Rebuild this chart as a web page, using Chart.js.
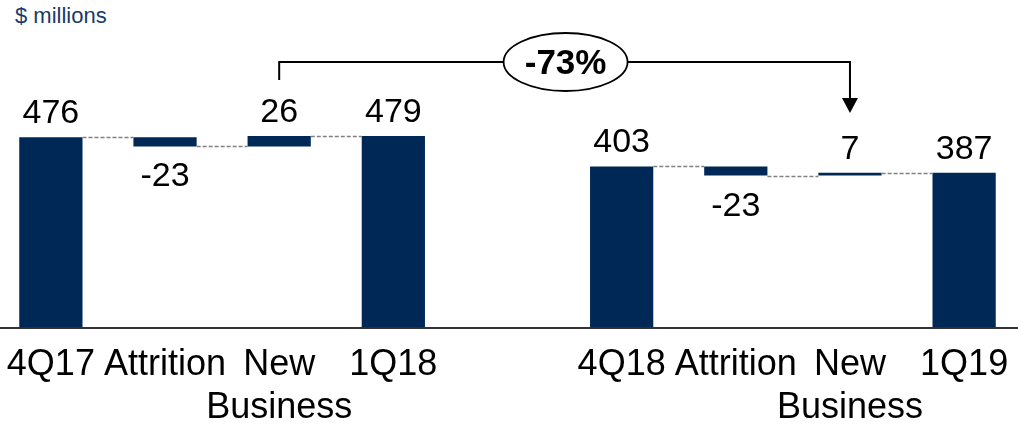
<!DOCTYPE html>
<html>
<head>
<meta charset="utf-8">
<script src="https://cdn.jsdelivr.net/npm/chart.js@4/dist/chart.umd.min.js"></script>
<style>
  body { margin: 0; background: #fff; overflow: hidden; }
  #unit { position: absolute; left: 15px; top: 3px; font: 22px "Liberation Sans", Arial, sans-serif; color: #1b3a6a; }
  #wrap { position: absolute; left: -9px; top: 0; width: 1033px; height: 446px; }
</style>
</head>
<body>
<div id="unit">$ millions</div>
<div id="wrap"><canvas id="waterfallChart"></canvas></div>
<script>
const categories = [["4Q17"], ["Attrition"], ["New", "Business"], ["1Q18"], [""], ["4Q18"], ["Attrition"], ["New", "Business"], ["1Q19"]];
const amounts = [476, -23, 26, 479, null, 403, -23, 7, 387];
const kinds = ["total", "delta", "delta", "total", null, "total", "delta", "delta", "total"];
const changeLabel = "-73%";
const changeFrom = 2; // New Business 1Q18
const changeTo = 7;   // New Business 1Q19

// floating bars built from the running level
const ranges = [];
const levels = [];
let level = 0;
for (let i = 0; i < amounts.length; i++) {
	if (amounts[i] === null) { ranges.push(null); levels.push(null); continue; }
	if (kinds[i] === "total") {
		ranges.push([0, amounts[i]]);
		level = amounts[i];
	} else {
		ranges.push([level, level + amounts[i]]);
		level = level + amounts[i];
	}
	levels.push(level);
}

const FONT = '"Liberation Sans", Arial, sans-serif';
const NAVY = "#002856";

const overlay = {
	id: "overlay",
	afterDatasetsDraw(chart) {
		const ctx = chart.ctx;
		const meta = chart.getDatasetMeta(0);
		const y = chart.scales.y;
		ctx.save();

		// dashed connectors
		ctx.strokeStyle = "#808080";
		ctx.lineWidth = 1.3;
		ctx.setLineDash([4, 2]);
		for (let i = 0; i < amounts.length - 1; i++) {
			if (levels[i] === null || amounts[i + 1] === null) continue;
			const a = meta.data[i], b = meta.data[i + 1];
			const py = Math.round(y.getPixelForValue(levels[i])) + 0.5;
			ctx.beginPath();
			ctx.moveTo(a.x + a.width / 2, py);
			ctx.lineTo(b.x - b.width / 2, py);
			ctx.stroke();
		}
		ctx.setLineDash([]);

		// value labels
		ctx.fillStyle = "#000";
		ctx.font = "34px " + FONT;
		ctx.textAlign = "center";
		ctx.textBaseline = "alphabetic";
		for (let i = 0; i < amounts.length; i++) {
			if (amounts[i] === null) continue;
			const bar = meta.data[i];
			const top = Math.min(bar.y, bar.base);
			const bottom = Math.max(bar.y, bar.base);
			if (amounts[i] < 0) {
				ctx.fillText(String(amounts[i]), bar.x, bottom + 40);
			} else {
				ctx.fillText(String(amounts[i]), bar.x, top - 14);
			}
		}

		// change bracket
		const x1 = meta.data[changeFrom].x;
		const x2 = meta.data[changeTo].x;
		const by = chart.chartArea.top + 62;
		const cx = (x1 + x2) / 2 + 1;
		ctx.strokeStyle = "#000";
		ctx.lineWidth = 2;
		ctx.beginPath();
		ctx.moveTo(x1, by + 18);
		ctx.lineTo(x1, by);
		ctx.lineTo(x2, by);
		ctx.lineTo(x2, by + 36);
		ctx.stroke();
		ctx.fillStyle = "#000";
		ctx.beginPath();
		ctx.moveTo(x2 - 8, by + 36);
		ctx.lineTo(x2 + 8, by + 36);
		ctx.lineTo(x2, by + 51);
		ctx.closePath();
		ctx.fill();

		ctx.beginPath();
		ctx.ellipse(cx, by, 62, 29, 0, 0, Math.PI * 2);
		ctx.fillStyle = "#fff";
		ctx.fill();
		ctx.lineWidth = 1.8;
		ctx.stroke();
		ctx.fillStyle = "#000";
		ctx.font = "bold 35px " + FONT;
		ctx.textBaseline = "middle";
		ctx.fillText(changeLabel, cx, by + 2);
		ctx.restore();
	}
};

const ctx = document.getElementById("waterfallChart").getContext("2d");

const config = {
	type: "bar",
	data: {
		labels: categories,
		datasets: [
			{
				data: ranges,
				backgroundColor: NAVY,
				borderWidth: 0,
				borderSkipped: false,
				categoryPercentage: 1,
				barPercentage: 0.554,
			},
		],
	},
	options: {
		responsive: true,
		maintainAspectRatio: false,
		animation: false,
		layout: { padding: 0 },
		plugins: {
			legend: { display: false },
			tooltip: { enabled: false },
		},
		scales: {
			x: {
				grid: { display: false, drawTicks: false },
				border: { display: true, color: "#333", width: 2 },
				ticks: {
					color: "#000",
					padding: 16,
					maxRotation: 0,
					autoSkip: false,
					font: { family: FONT, size: 36, lineHeight: 1.2 },
				},
			},
			y: {
				display: false,
				min: 0,
				max: 819,
			},
		},
	},
	plugins: [overlay],
};

const waterfallChart = new Chart(ctx, config);
</script>
</body>
</html>
